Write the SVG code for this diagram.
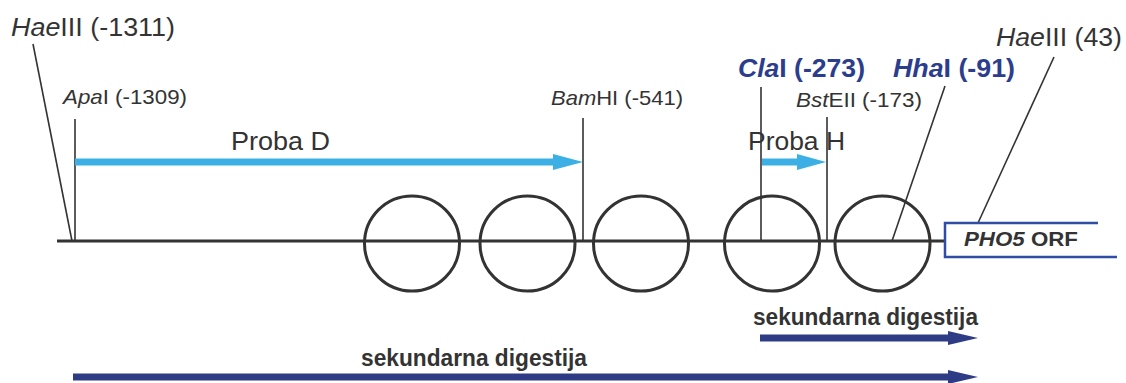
<svg xmlns="http://www.w3.org/2000/svg" width="1126" height="383" viewBox="0 0 1126 383">
<style>
text{font-family:"Liberation Sans",Arial,sans-serif;fill:#333}
.lbl{font-size:21px}
.big{font-size:26px}
.blue{font-size:26px;font-weight:bold;fill:#2b3d8c}
.sek{font-size:23px;font-weight:bold}
.tick{stroke:#333;stroke-width:1.6;fill:none}
.nuc{fill:none;stroke:#333;stroke-width:3}
.probe{fill:#3cb0e4}
.dig{fill:#2e3c86}
</style>
<rect width="1126" height="383" fill="#fff"/>
<g id="connectors">
  <line class="tick" x1="33" y1="44" x2="72" y2="241"/>
  <line class="tick" x1="75" y1="119" x2="75" y2="241"/>
  <line class="tick" x1="583" y1="118" x2="583" y2="241"/>
  <line class="tick" x1="761" y1="87" x2="761" y2="241"/>
  <line class="tick" x1="827" y1="117" x2="827" y2="241"/>
  <line class="tick" x1="945" y1="86" x2="892" y2="241"/>
  <line class="tick" x1="1054" y1="57" x2="978" y2="223"/>
  <line x1="57" y1="241" x2="945" y2="241" stroke="#333" stroke-width="3"/>
</g>
<g id="nucleosomes">
  <circle class="nuc" cx="412" cy="243.5" r="47.5"/>
  <circle class="nuc" cx="527.5" cy="243.5" r="47.5"/>
  <circle class="nuc" cx="641" cy="243.5" r="47.5"/>
  <circle class="nuc" cx="772" cy="243.5" r="47.5"/>
  <circle class="nuc" cx="882.5" cy="243.5" r="47.5"/>
</g>
<g id="orf">
  <path d="M1098,223 H945 V257 H1117" fill="none" stroke="#2f4ea3" stroke-width="2.5"/>
  <text x="964" y="246" font-size="21" font-weight="bold" textLength="114" lengthAdjust="spacingAndGlyphs"><tspan font-style="italic">PHO5</tspan> ORF</text>
</g>
<g id="probeD">
  <rect class="probe" x="75" y="158.5" width="481" height="7"/>
  <polygon class="probe" points="553,154 583,162 553,170"/>
  <text class="big" x="231" y="150" textLength="99" lengthAdjust="spacingAndGlyphs">Proba D</text>
</g>
<g id="probeH">
  <rect class="probe" x="762" y="158.5" width="37" height="7"/>
  <polygon class="probe" points="797,154 826,162 797,170"/>
  <text class="big" x="748" y="150" textLength="97" lengthAdjust="spacingAndGlyphs">Proba H</text>
</g>
<g id="labels">
  <text class="big" x="11" y="36" textLength="164" lengthAdjust="spacingAndGlyphs"><tspan font-style="italic">Hae</tspan>III (-1311)</text>
  <text class="lbl" x="63" y="104" textLength="124" lengthAdjust="spacingAndGlyphs"><tspan font-style="italic">Apa</tspan>I (-1309)</text>
  <text class="lbl" x="551" y="105" textLength="132" lengthAdjust="spacingAndGlyphs"><tspan font-style="italic">Bam</tspan>HI (-541)</text>
  <text class="lbl" x="796" y="107" textLength="126" lengthAdjust="spacingAndGlyphs"><tspan font-style="italic">Bst</tspan>EII (-173)</text>
  <text class="blue" x="738" y="77" textLength="127" lengthAdjust="spacingAndGlyphs"><tspan font-style="italic">Cla</tspan>I (-273)</text>
  <text class="blue" x="893" y="77" textLength="122" lengthAdjust="spacingAndGlyphs"><tspan font-style="italic">Hha</tspan>I (-91)</text>
  <text class="big" x="996" y="46" textLength="126" lengthAdjust="spacingAndGlyphs"><tspan font-style="italic">Hae</tspan>III (43)</text>
</g>
<g id="digestion1">
  <rect class="dig" x="760" y="334.5" width="190" height="7"/>
  <polygon class="dig" points="948,331 978,338 948,345"/>
  <text class="sek" x="753" y="325" textLength="225" lengthAdjust="spacingAndGlyphs">sekundarna digestija</text>
</g>
<g id="digestion2">
  <rect class="dig" x="73" y="373.5" width="877" height="7"/>
  <polygon class="dig" points="948,370 978,377 948,384"/>
  <text class="sek" x="361" y="366" textLength="226" lengthAdjust="spacingAndGlyphs">sekundarna digestija</text>
</g>
</svg>
